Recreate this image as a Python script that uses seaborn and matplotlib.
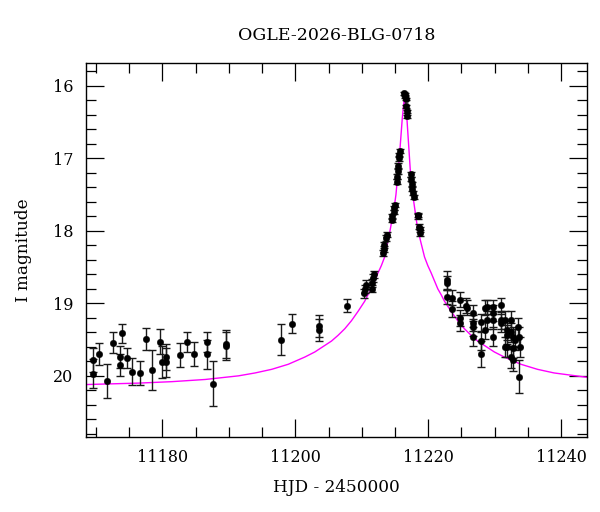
import matplotlib
matplotlib.use("Agg")
import matplotlib.pyplot as plt
import pandas as pd
import seaborn as sns
from matplotlib.ticker import MultipleLocator

# photometry: baseline before the event
base_hjd = [11169.6, 11169.6, 11170.5, 11171.6, 11172.5, 11173.9, 11173.6, 11173.6,
            11174.6, 11175.5, 11176.6, 11177.6, 11178.5, 11179.6, 11179.9, 11180.6,
            11180.6, 11182.6, 11183.7, 11184.7, 11186.7, 11186.7, 11187.6, 11189.5,
            11189.5, 11197.8, 11199.5, 11203.6, 11203.6, 11207.8]
base_mag = [19.78, 19.97, 19.70, 20.07, 19.54, 19.41, 19.74, 19.85,
            19.75, 19.94, 19.96, 19.49, 19.92, 19.53, 19.81, 19.74,
            19.81, 19.71, 19.53, 19.70, 19.53, 19.70, 20.11, 19.56,
            19.59, 19.50, 19.28, 19.31, 19.37, 19.03]
base_err = [0.17, 0.20, 0.15, 0.24, 0.14, 0.13, 0.15, 0.15,
            0.14, 0.19, 0.17, 0.15, 0.28, 0.17, 0.22, 0.18,
            0.20, 0.17, 0.14, 0.17, 0.14, 0.20, 0.31, 0.19,
            0.19, 0.21, 0.13, 0.15, 0.15, 0.09]

# photometry: around the peak
peak_hjd = [11210.4, 11210.5, 11210.6, 11211.5, 11211.6, 11211.7, 11211.8,
            11213.2, 11213.3, 11213.4, 11213.7, 11213.8,
            11214.5, 11214.6, 11214.8, 11214.9, 11215.0,
            11215.3, 11215.35, 11215.4, 11215.5, 11215.6, 11215.65, 11215.7,
            11216.4, 11216.45, 11216.5, 11216.6, 11216.7, 11216.75, 11216.8,
            11217.35, 11217.45, 11217.5, 11217.6, 11217.7, 11217.8,
            11218.4, 11218.5, 11218.6, 11218.7, 11218.8]
peak_mag = [18.86, 18.80, 18.74, 18.80, 18.72, 18.65, 18.60,
            18.30, 18.25, 18.20, 18.10, 18.05,
            17.85, 17.80, 17.74, 17.68, 17.64,
            17.32, 17.25, 17.18, 17.10, 17.00, 16.95, 16.90,
            16.10, 16.12, 16.14, 16.18, 16.28, 16.35, 16.42,
            17.22, 17.28, 17.35, 17.42, 17.48, 17.53,
            17.78, 17.80, 17.94, 17.98, 18.03]
peak_err = [0.06, 0.06, 0.06, 0.05, 0.05, 0.05, 0.05,
            0.04, 0.04, 0.04, 0.04, 0.04,
            0.03, 0.03, 0.03, 0.03, 0.03,
            0.03, 0.03, 0.03, 0.03, 0.03, 0.03, 0.03,
            0.02, 0.02, 0.02, 0.02, 0.02, 0.02, 0.02,
            0.03, 0.03, 0.03, 0.03, 0.03, 0.03,
            0.03, 0.03, 0.04, 0.04, 0.04]

# photometry: decline
tail_hjd = [11222.9, 11222.9, 11222.9, 11223.6, 11223.6, 11224.8, 11224.8, 11224.8,
            11225.7, 11225.9, 11226.7, 11226.7, 11226.8, 11226.7, 11227.9, 11227.9,
            11227.9, 11228.6, 11228.8, 11228.6, 11228.8, 11229.7, 11229.8, 11229.7,
            11229.7, 11230.9, 11230.9, 11231.0, 11231.6, 11231.8, 11231.6, 11231.8,
            11231.9, 11232.5, 11232.5, 11232.7, 11232.7, 11232.5, 11232.7, 11233.0,
            11233.5, 11233.6, 11233.8, 11233.6]
tail_mag = [18.68, 18.72, 18.91, 18.92, 19.08, 18.95, 19.20, 19.27,
            19.03, 19.06, 19.13, 19.27, 19.33, 19.46, 19.26, 19.52,
            19.70, 19.06, 19.23, 19.37, 19.05, 19.05, 19.13, 19.23,
            19.46, 19.02, 19.23, 19.27, 19.23, 19.43, 19.60, 19.37,
            19.60, 19.23, 19.40, 19.46, 19.61, 19.74, 19.78, 19.50,
            19.33, 19.46, 19.60, 20.01]
tail_err = [0.12, 0.10, 0.10, 0.10, 0.11, 0.10, 0.11, 0.11,
            0.10, 0.10, 0.11, 0.11, 0.12, 0.13, 0.12, 0.13,
            0.18, 0.10, 0.12, 0.12, 0.10, 0.10, 0.11, 0.12,
            0.13, 0.10, 0.12, 0.12, 0.12, 0.13, 0.14, 0.13,
            0.14, 0.12, 0.13, 0.13, 0.14, 0.15, 0.15, 0.14,
            0.13, 0.14, 0.14, 0.23]

# model light curve
model_hjd = [11168.5, 11176.45, 11181.45, 11186.45, 11191.45, 11193.95, 11196.45,
             11198.95, 11201.45, 11202.95, 11204.45, 11205.45, 11206.45, 11207.45,
             11208.45, 11209.45, 11210.45, 11210.95, 11211.45, 11211.95, 11212.45,
             11212.95, 11213.45, 11214.15, 11214.85, 11215.15, 11215.65, 11216.1,
             11216.45,
             11216.8, 11217.3, 11217.8, 11218.3, 11218.8, 11219.45, 11219.95,
             11220.45, 11220.95, 11221.45, 11221.95, 11222.45, 11223.45, 11224.45,
             11225.45, 11226.45, 11227.45, 11228.45, 11229.95, 11231.45, 11233.95,
             11236.45, 11238.95, 11243.9]
model_mag = [20.12, 20.10, 20.08, 20.05, 20.00, 19.96, 19.91,
             19.84, 19.74, 19.67, 19.58, 19.52, 19.44, 19.35,
             19.24, 19.11, 18.97, 18.88, 18.80, 18.69, 18.58,
             18.48, 18.36, 18.05, 17.70, 17.50, 17.00, 16.45,
             16.12,
             16.45, 17.15, 17.58, 17.90, 18.12, 18.36, 18.48,
             18.58, 18.69, 18.80, 18.88, 18.97, 19.11, 19.24,
             19.35, 19.44, 19.52, 19.58, 19.67, 19.74, 19.84,
             19.91, 19.96, 20.02]

title = "OGLE-2026-BLG-0718"
x_label = "HJD - 2450000"
y_label = "I magnitude"


def main():
    data = pd.DataFrame({
        "hjd": base_hjd + peak_hjd + tail_hjd,
        "mag": base_mag + peak_mag + tail_mag,
        "err": base_err + peak_err + tail_err,
    })
    model = pd.DataFrame({"hjd": model_hjd, "mag": model_mag})

    sns.set_theme(style="ticks")
    plt.rcParams["font.family"] = ["DejaVu Serif"]

    fig = plt.figure(figsize=(6.0, 5.12), dpi=100)
    fig.patch.set_facecolor("white")
    ax = fig.add_axes([0.1433, 0.147, 0.8350, 0.7305])

    ax.errorbar(data["hjd"], data["mag"], yerr=data["err"], fmt="none",
                ecolor="0.1", elinewidth=1.0, capsize=3, capthick=1.0, zorder=2)
    sns.scatterplot(data=data, x="hjd", y="mag", ax=ax, color="black",
                    edgecolor="black", s=22, linewidth=0.3, zorder=3, legend=False)
    sns.lineplot(data=model, x="hjd", y="mag", ax=ax, color="#ff00ff",
                 linewidth=1.0, sort=False, zorder=1)

    ax.set_xlim(11168.5, 11243.9)
    ax.set_ylim(20.84, 15.68)

    ax.xaxis.set_major_locator(MultipleLocator(20))
    ax.xaxis.set_minor_locator(MultipleLocator(5))
    ax.yaxis.set_major_locator(MultipleLocator(1))
    ax.yaxis.set_minor_locator(MultipleLocator(0.2))
    ax.tick_params(which="both", direction="in", top=True, right=True,
                   color="black", labelsize=11.5, labelcolor="black")
    ax.tick_params(which="major", length=13, width=0.9, pad=9)
    ax.tick_params(which="minor", length=7, width=0.9)
    for side in ax.spines.values():
        side.set_color("black")
        side.set_linewidth(1.0)

    ax.set_title(title, fontsize=12.5, pad=16, color="black")
    ax.set_xlabel(x_label, fontsize=12.2, labelpad=9, color="black")
    ax.set_ylabel(y_label, fontsize=12.2, labelpad=15, color="black")

    fig.savefig("out.png", dpi=100, facecolor="white")
    plt.close(fig)


if __name__ == "__main__":
    main()
